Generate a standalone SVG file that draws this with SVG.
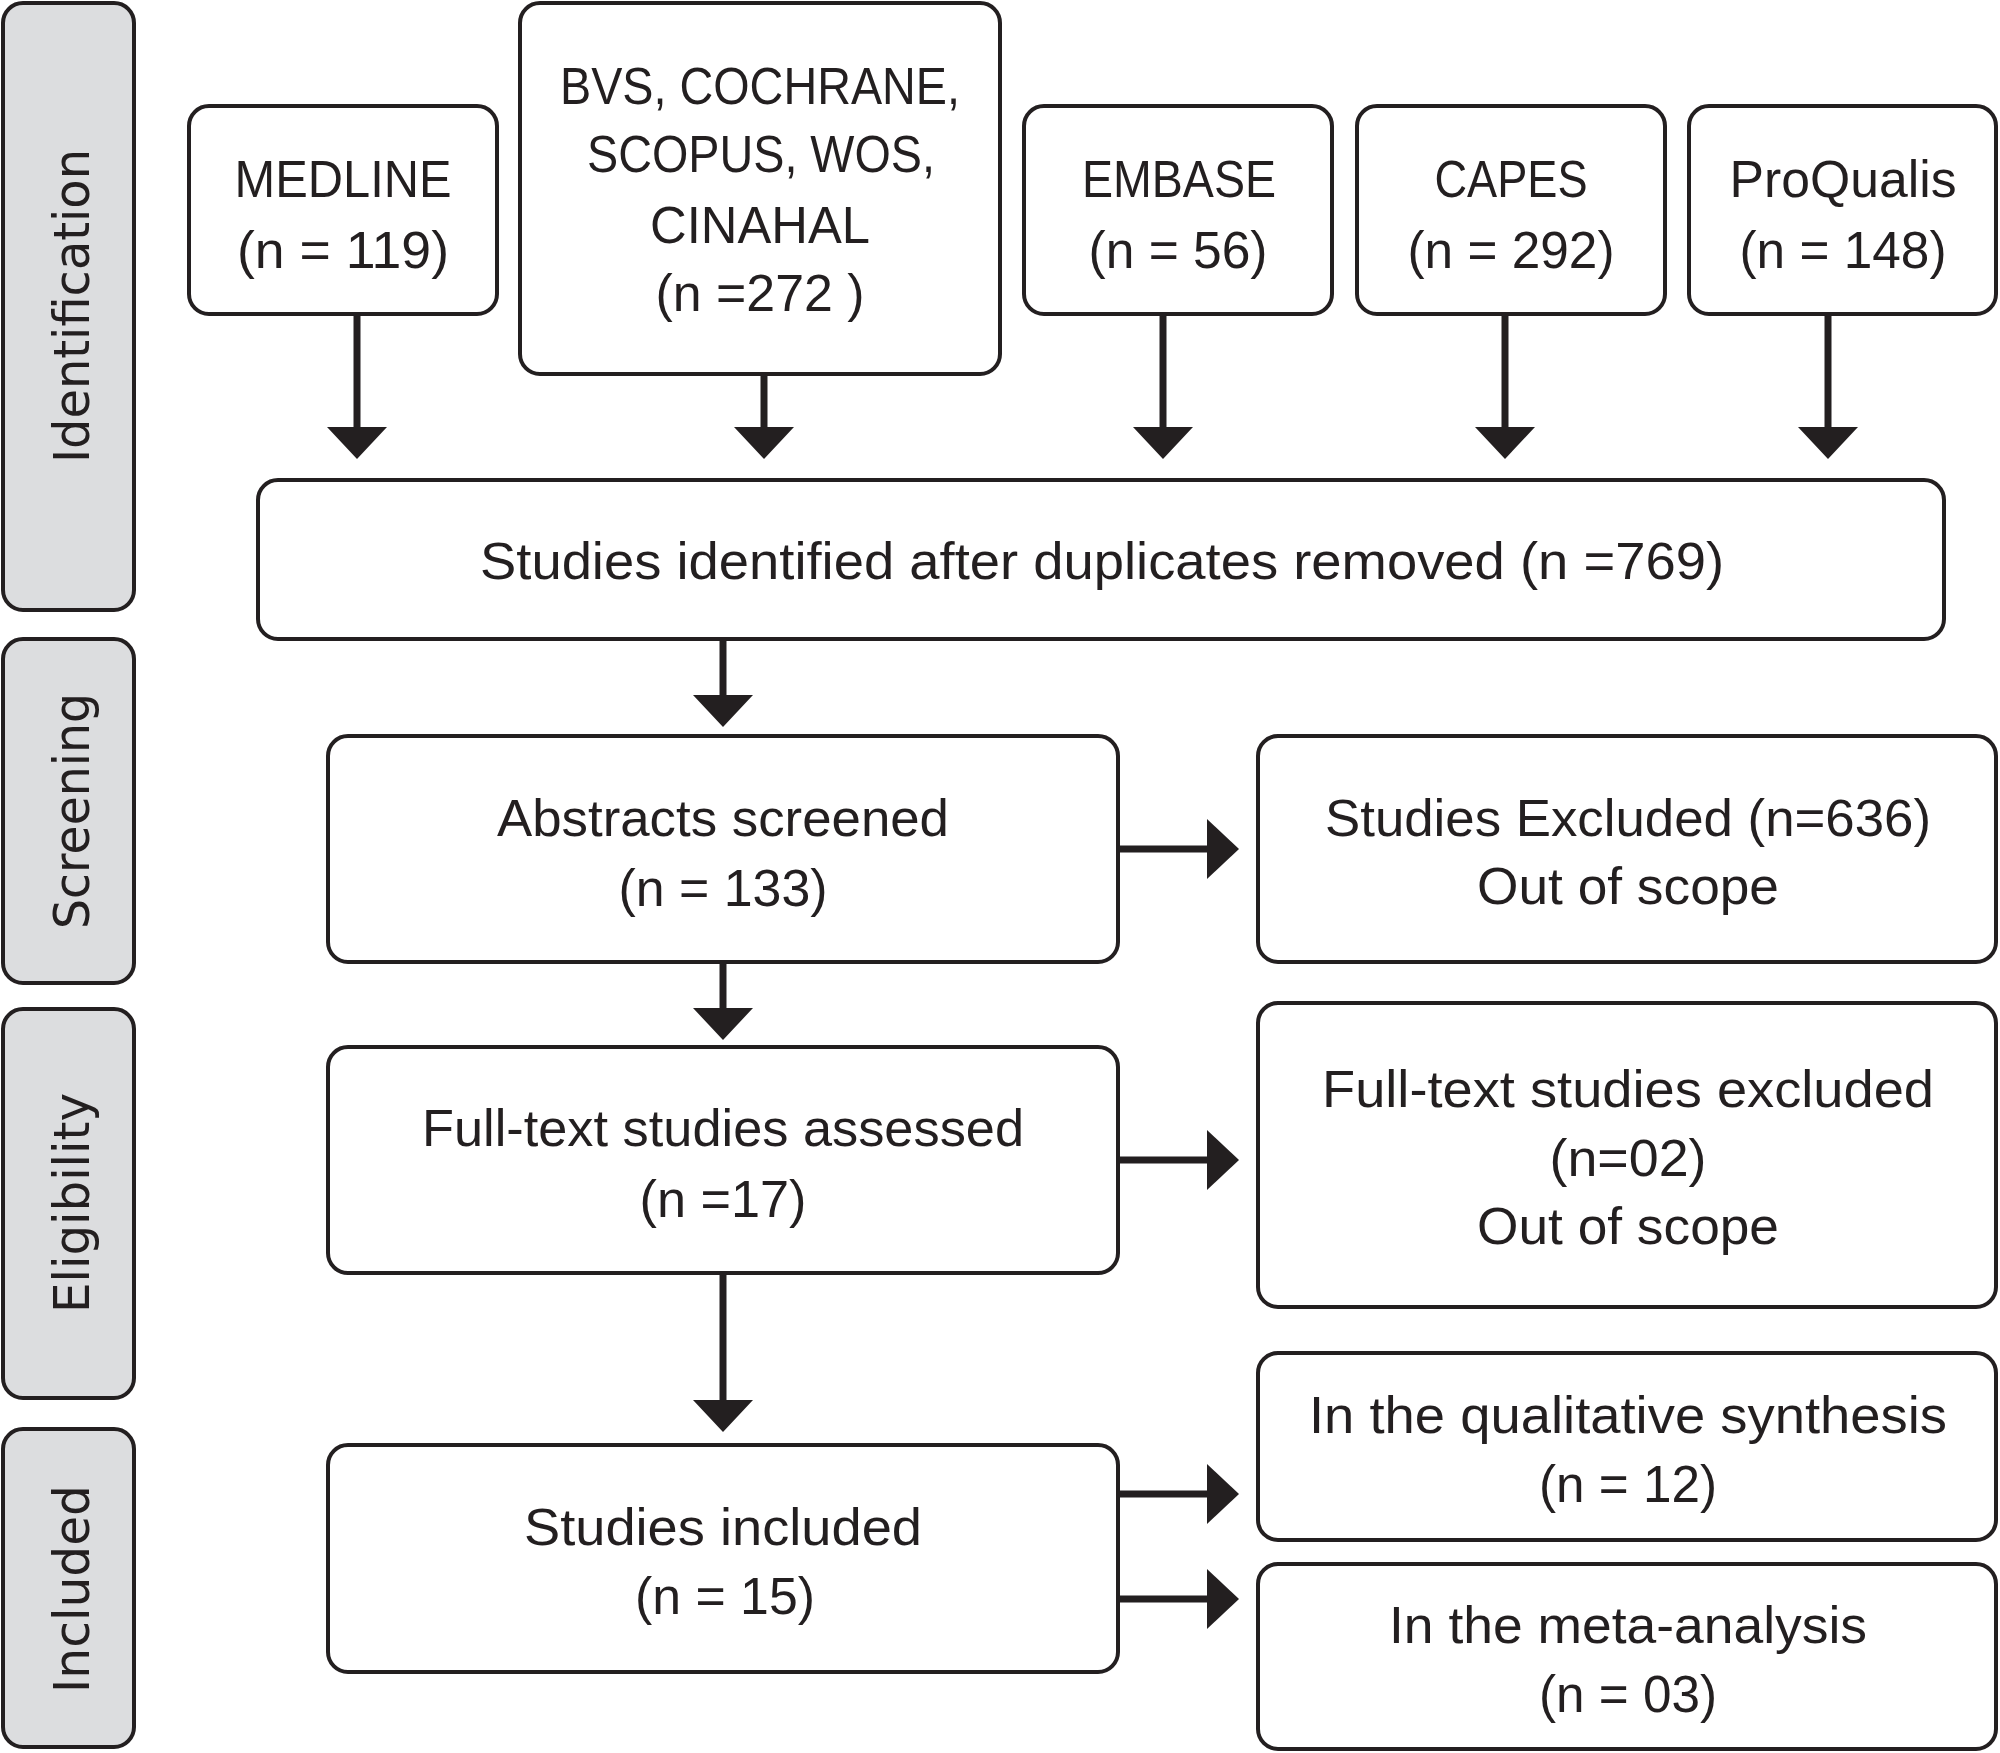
<svg xmlns="http://www.w3.org/2000/svg" width="2000" height="1753" viewBox="0 0 2000 1753">
<style>
  .phase rect { fill: #dcdddf; stroke: #231f20; stroke-width: 4; }
  .box rect { fill: #ffffff; stroke: #231f20; stroke-width: 4; }
  .phase text { font-family: "DejaVu Sans", sans-serif; font-size: 50px; fill: #231f20; text-anchor: middle; }
  .box text { font-family: "Liberation Sans", Arial, sans-serif; font-size: 52px; fill: #231f20; text-anchor: middle; }
  .conn line { stroke: #231f20; stroke-width: 7; }
</style>
<defs>
  <marker id="ah" markerUnits="userSpaceOnUse" markerWidth="32" markerHeight="60" refX="0" refY="30" orient="auto" viewBox="0 0 32 60">
    <path d="M0,0 L32,30 L0,60 Z" fill="#231f20"/>
  </marker>
</defs>
<rect x="0" y="0" width="2000" height="1753" fill="#ffffff"/>

<g id="phase-identification" class="phase">
  <rect x="3" y="3" width="131" height="607" rx="20"/>
  <text transform="translate(89,306) rotate(-90)" textLength="314" lengthAdjust="spacingAndGlyphs">Identification</text>
</g>
<g id="phase-screening" class="phase">
  <rect x="3" y="639" width="131" height="344" rx="20"/>
  <text transform="translate(89,811) rotate(-90)" textLength="236" lengthAdjust="spacingAndGlyphs">Screening</text>
</g>
<g id="phase-eligibility" class="phase">
  <rect x="3" y="1009" width="131" height="389" rx="20"/>
  <text transform="translate(89,1203) rotate(-90)" textLength="220" lengthAdjust="spacingAndGlyphs">Eligibility</text>
</g>
<g id="phase-included" class="phase">
  <rect x="3" y="1429" width="131" height="318" rx="20"/>
  <text transform="translate(89,1589) rotate(-90)" textLength="208" lengthAdjust="spacingAndGlyphs">Included</text>
</g>

<g id="medline" class="box">
  <rect x="189" y="106" width="308" height="208" rx="20"/>
  <text x="343" y="197" textLength="217" lengthAdjust="spacingAndGlyphs">MEDLINE</text>
  <text x="343" y="268" textLength="212" lengthAdjust="spacingAndGlyphs">(n = 119)</text>
</g>
<g id="bvs" class="box">
  <rect x="520" y="3" width="480" height="371" rx="20"/>
  <text x="760" y="104" textLength="400" lengthAdjust="spacingAndGlyphs">BVS, COCHRANE,</text>
  <text x="761" y="172" textLength="348" lengthAdjust="spacingAndGlyphs">SCOPUS, WOS,</text>
  <text x="760" y="243" textLength="220" lengthAdjust="spacingAndGlyphs">CINAHAL</text>
  <text x="760" y="311" textLength="209" lengthAdjust="spacingAndGlyphs">(n =272 )</text>
</g>
<g id="embase" class="box">
  <rect x="1024" y="106" width="308" height="208" rx="20"/>
  <text x="1179" y="197" textLength="194" lengthAdjust="spacingAndGlyphs">EMBASE</text>
  <text x="1178" y="268" textLength="179" lengthAdjust="spacingAndGlyphs">(n = 56)</text>
</g>
<g id="capes" class="box">
  <rect x="1357" y="106" width="308" height="208" rx="20"/>
  <text x="1511" y="197" textLength="153" lengthAdjust="spacingAndGlyphs">CAPES</text>
  <text x="1511" y="268" textLength="207" lengthAdjust="spacingAndGlyphs">(n = 292)</text>
</g>
<g id="proqualis" class="box">
  <rect x="1689" y="106" width="307" height="208" rx="20"/>
  <text x="1843" y="197" textLength="227" lengthAdjust="spacingAndGlyphs">ProQualis</text>
  <text x="1843" y="268" textLength="207" lengthAdjust="spacingAndGlyphs">(n = 148)</text>
</g>

<g id="duplicates-removed" class="box">
  <rect x="258" y="480" width="1686" height="159" rx="20"/>
  <text x="1102" y="579" textLength="1244" lengthAdjust="spacingAndGlyphs">Studies identified after duplicates removed (n =769)</text>
</g>

<g id="abstracts-screened" class="box">
  <rect x="328" y="736" width="790" height="226" rx="20"/>
  <text x="723" y="836" textLength="452" lengthAdjust="spacingAndGlyphs">Abstracts screened</text>
  <text x="723" y="906" textLength="209" lengthAdjust="spacingAndGlyphs">(n = 133)</text>
</g>
<g id="studies-excluded" class="box">
  <rect x="1258" y="736" width="738" height="226" rx="20"/>
  <text x="1628" y="836" textLength="606" lengthAdjust="spacingAndGlyphs">Studies Excluded (n=636)</text>
  <text x="1628" y="904" textLength="302" lengthAdjust="spacingAndGlyphs">Out of scope</text>
</g>

<g id="fulltext-assessed" class="box">
  <rect x="328" y="1047" width="790" height="226" rx="20"/>
  <text x="723" y="1146" textLength="602" lengthAdjust="spacingAndGlyphs">Full-text studies assessed</text>
  <text x="723" y="1217" textLength="167" lengthAdjust="spacingAndGlyphs">(n =17)</text>
</g>
<g id="fulltext-excluded" class="box">
  <rect x="1258" y="1003" width="738" height="304" rx="20"/>
  <text x="1628" y="1107" textLength="612" lengthAdjust="spacingAndGlyphs">Full-text studies excluded</text>
  <text x="1628" y="1176" textLength="157" lengthAdjust="spacingAndGlyphs">(n=02)</text>
  <text x="1628" y="1244" textLength="302" lengthAdjust="spacingAndGlyphs">Out of scope</text>
</g>

<g id="studies-included" class="box">
  <rect x="328" y="1445" width="790" height="227" rx="20"/>
  <text x="723" y="1545" textLength="398" lengthAdjust="spacingAndGlyphs">Studies included</text>
  <text x="725" y="1614" textLength="180" lengthAdjust="spacingAndGlyphs">(n = 15)</text>
</g>
<g id="qualitative-synthesis" class="box">
  <rect x="1258" y="1353" width="738" height="187" rx="20"/>
  <text x="1628" y="1433" textLength="638" lengthAdjust="spacingAndGlyphs">In the qualitative synthesis</text>
  <text x="1628" y="1502" textLength="178" lengthAdjust="spacingAndGlyphs">(n = 12)</text>
</g>
<g id="meta-analysis" class="box">
  <rect x="1258" y="1564" width="738" height="185" rx="20"/>
  <text x="1628" y="1643" textLength="478" lengthAdjust="spacingAndGlyphs">In the meta-analysis</text>
  <text x="1628" y="1712" textLength="178" lengthAdjust="spacingAndGlyphs">(n = 03)</text>
</g>

<g id="connectors" class="conn">
  <line x1="357" y1="314" x2="357" y2="427" marker-end="url(#ah)"/>
  <line x1="764" y1="374" x2="764" y2="427" marker-end="url(#ah)"/>
  <line x1="1163" y1="314" x2="1163" y2="427" marker-end="url(#ah)"/>
  <line x1="1505" y1="314" x2="1505" y2="427" marker-end="url(#ah)"/>
  <line x1="1828" y1="314" x2="1828" y2="427" marker-end="url(#ah)"/>
  <line x1="723" y1="639" x2="723" y2="695" marker-end="url(#ah)"/>
  <line x1="723" y1="962" x2="723" y2="1008" marker-end="url(#ah)"/>
  <line x1="723" y1="1273" x2="723" y2="1400" marker-end="url(#ah)"/>
  <line x1="1118" y1="849" x2="1207" y2="849" marker-end="url(#ah)"/>
  <line x1="1118" y1="1160" x2="1207" y2="1160" marker-end="url(#ah)"/>
  <line x1="1118" y1="1494" x2="1207" y2="1494" marker-end="url(#ah)"/>
  <line x1="1118" y1="1599" x2="1207" y2="1599" marker-end="url(#ah)"/>
</g>
</svg>
